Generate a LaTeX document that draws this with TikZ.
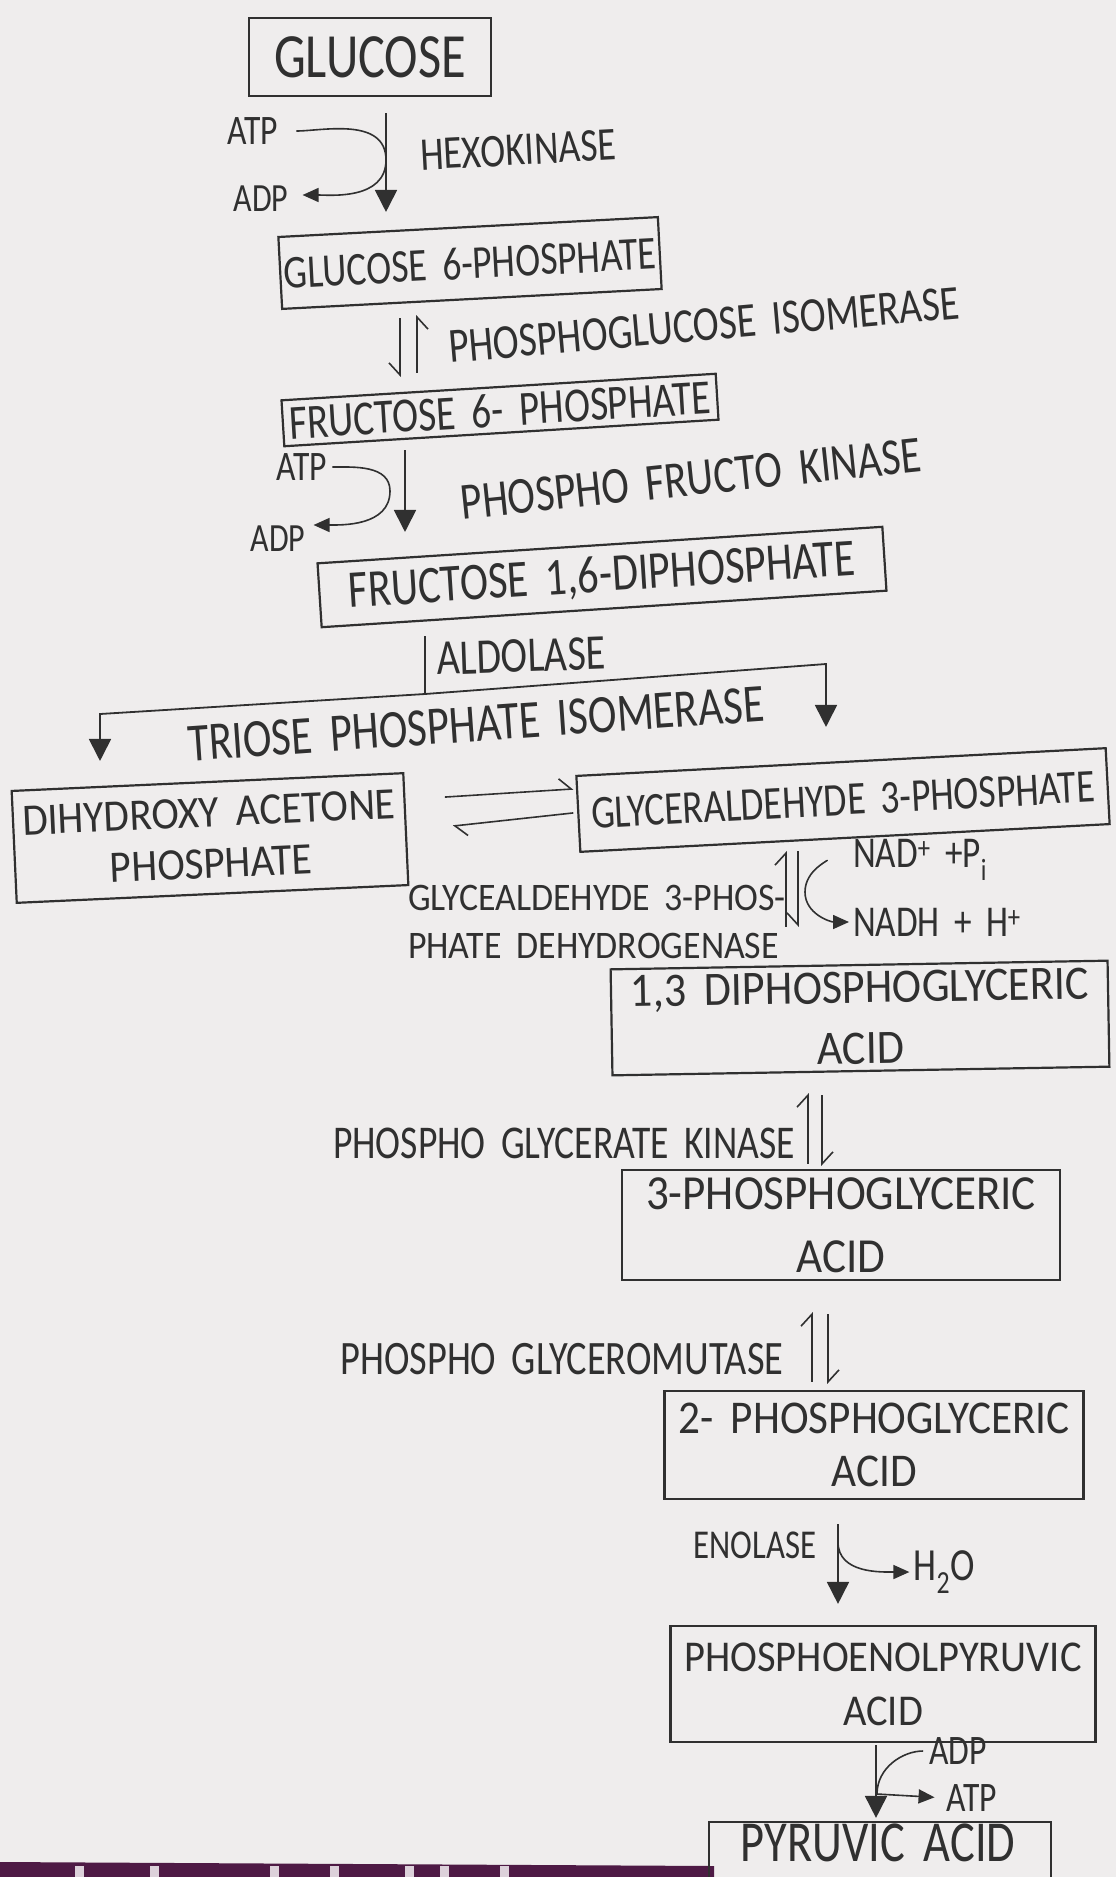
\documentclass[tikz,border=0pt]{standalone}
\usepackage{fontspec}
\setmainfont{Carlito}[FakeStretch=0.8, WordSpace=1.8]
\newfontfamily\hwwide{Carlito}[FakeStretch=0.92, WordSpace=1.8]
\usetikzlibrary{arrows.meta,positioning,calc}
\definecolor{paper}{HTML}{EFEDED}
\definecolor{pencil}{HTML}{303030}
\definecolor{cloth}{HTML}{4E1A45}
\newcommand{\hw}[1]{\fontsize{#1}{#1}\selectfont}
\tikzstyle{met} = [rectangle, draw=pencil, line width=2.2pt, text=pencil, align=center, inner sep=0pt]
\tikzstyle{lbl} = [text=pencil, inner sep=0pt, align=center]
\tikzstyle{arrow} = [draw=pencil, line width=1.8pt, -{Triangle[length=22pt,width=22pt]}]
\tikzstyle{plain} = [draw=pencil, line width=1.8pt]
\tikzstyle{side} = [draw=pencil, line width=1.6pt, -{Triangle[length=16pt,width=14pt]}]
\tikzstyle{harp} = [draw=pencil, line width=1.6pt, -{Straight Barb[left,length=12pt,width=22pt]}]
\tikzstyle{harpr} = [draw=pencil, line width=1.6pt, -{Straight Barb[right,length=12pt,width=22pt]}]

\begin{document}
\begin{tikzpicture}[x=1pt,y=-1pt]
	\fill[paper] (0,0) rectangle (1116,1877);
	\useasboundingbox (0,0) rectangle (1116,1877);
	% cloth under the sheet
	\fill[cloth] (0,1862) -- (714,1866) -- (714,1877) -- (0,1877) -- cycle;
	\foreach \x in {75,150,270,330,405,440,500}
		\fill[white!80!cloth] (\x,1866) rectangle ++(9,11);

	% compounds
	\node[met, font=\hw{63}, minimum width=242pt, minimum height=78pt] (glc) at (370,57) {GLUCOSE};
	\node[met, font=\hw{47}, minimum width=380pt, minimum height=72pt, rotate=3] (g6p) at (470,263) {GLUCOSE 6-PHOSPHATE};
	\node[met, font=\hw{49}, minimum width=435pt, minimum height=46pt, rotate=3.5] (f6p) at (500,410) {FRUCTOSE 6- PHOSPHATE};
	\node[met, font=\hw{53}, minimum width=566pt, minimum height=64pt, rotate=3.7] (f16) at (602,577) {FRUCTOSE 1,6-DIPHOSPHATE};
	\node[met, font={\hwwide\hw{45}}, minimum width=392pt, minimum height=112pt, rotate=2.6] (dhap) at (210,838) {DIHYDROXY ACETONE\\[6pt]PHOSPHATE};
	\node[met, font=\hw{47}, minimum width=530pt, minimum height=76pt, rotate=3] (gap) at (843,800) {GLYCERALDEHYDE 3-PHOSPHATE};
	\node[met, font={\hwwide\hw{48}}, minimum width=497pt, minimum height=106pt, rotate=1] (dpg) at (860,1018) {1,3 DIPHOSPHOGLYCERIC\\[13pt]ACID};
	\node[met, font={\hwwide\hw{49}}, minimum width=438pt, minimum height=110pt] (pga3) at (841,1225) {3-PHOSPHOGLYCERIC\\[14pt]ACID};
	\node[met, font={\hwwide\hw{47}}, minimum width=419pt, minimum height=108pt] (pga2) at (874,1445) {2- PHOSPHOGLYCERIC\\[6pt]ACID};
	\node[met, font={\hwwide\hw{44}}, minimum width=425pt, minimum height=116pt] (pep) at (883,1684) {PHOSPHOENOLPYRUVIC\\[10pt]ACID};
	\node[met, minimum width=342pt, minimum height=76pt] (pyr) at (880,1860) {};
	\node[lbl, font=\hw{58}] (pyrtxt) at (878,1843) {PYRUVIC ACID};

	% enzymes and side products
	\node[lbl, font=\hw{42}] (atp1) at (253,131) {ATP};
	\node[lbl, font=\hw{40}] (adp1) at (261,199) {ADP};
	\node[lbl, font=\hw{47}, rotate=3] (hk) at (518,150) {HEXOKINASE};
	\node[lbl, font=\hw{49}, rotate=5] (pgi) at (704,325) {PHOSPHOGLUCOSE ISOMERASE};
	\node[lbl, font=\hw{42}] (atp2) at (302,467) {ATP};
	\node[lbl, font=\hw{40}] (adp2) at (278,539) {ADP};
	\node[lbl, font=\hw{52}, rotate=6] (pfk) at (691,479) {PHOSPHO FRUCTO KINASE};
	\node[lbl, font=\hw{50}, rotate=2] (ald) at (521,656) {ALDOLASE};
	\node[lbl, font=\hw{54}, rotate=4] (tpi) at (476,724) {TRIOSE PHOSPHATE ISOMERASE};
	\node[lbl, font={\hwwide\hw{39}}, align=left] (gapdh) at (597,922) {GLYCEALDEHYDE 3-PHOS-\\[9pt]PHATE DEHYDROGENASE};
	\node[lbl, font=\hw{44}, anchor=west] (nad) at (853,860) {NAD\textsuperscript{+} +P\textsubscript{i}};
	\node[lbl, font=\hw{44}, anchor=west] (nadh) at (853,922) {NADH + H\textsuperscript{+}};
	\node[lbl, font=\hw{47}] (pgk) at (564,1143) {PHOSPHO GLYCERATE KINASE};
	\node[lbl, font=\hw{48}] (pgm) at (562,1359) {PHOSPHO GLYCEROMUTASE};
	\node[lbl, font=\hw{41}] (eno) at (755,1545) {ENOLASE};
	\node[lbl, font=\hw{46}] (h2o) at (944,1572) {H\textsubscript{2}O};
	\node[lbl, font=\hw{42}] (adp3) at (958,1751) {ADP};
	\node[lbl, font=\hw{42}] (atp3) at (972,1798) {ATP};

	% stems of the arrows
	\coordinate (k1) at (386,160);
	\coordinate (s2l) at (400,0);
	\coordinate (s2r) at (417,0);
	\coordinate (k2) at (390,491);
	\coordinate (s3) at (405,0);
	\coordinate (sp) at (425,694);
	\coordinate (spL) at (100,714);
	\coordinate (spR) at (826,664);
	\coordinate (s5l) at (786,0);
	\coordinate (s5r) at (798,0);
	\coordinate (k5) at (805,892);
	\coordinate (s6l) at (808,0);
	\coordinate (s6r) at (822,0);
	\coordinate (s7l) at (812,0);
	\coordinate (s7r) at (828,0);
	\coordinate (k8) at (838,1542);
	\coordinate (s9) at (876,0);
	\coordinate (k9) at (877,1794);

	% glucose -> G6P
	\draw[arrow, shorten <=16pt, shorten >=14pt] (glc.south -| k1) -- (g6p.north -| k1);
	\draw[side, shorten <=18pt, shorten >=14pt] (atp1.east) to[out=0,in=90] (k1) to[out=-90,in=0] ([yshift=4]adp1.east);
	% G6P <-> F6P
	\draw[harpr, shorten <=18pt, shorten >=9pt] (g6p.south -| s2l) -- (f6p.north -| s2l);
	\draw[harpr, shorten <=13pt, shorten >=15pt] (f6p.north -| s2r) -- (g6p.south -| s2r);
	% F6P -> F16DP
	\draw[arrow, shorten <=16pt, shorten >=12pt] (f6p.south -| s3) -- (f16.north -| s3);
	\draw[side, shorten <=5pt, shorten >=8pt] (atp2.east) to[out=0,in=90] (k2) to[out=-90,in=0] ([yshift=14]adp2.east);
	% aldolase split
	\draw[plain, shorten <=26pt] (f16.south -| sp) -- (sp);
	\draw[arrow, shorten >=20pt] (sp) -- (spL) -- (spL |- dhap.north);
	\draw[arrow, shorten >=34pt] (sp) -- (spR) -- (spR |- gap.north);
	% DHAP <-> GAP
	\draw[harp] ([shift={(38,-32)}]dhap.east) -- ([shift={(-4,-25)}]gap.west);
	\draw[harp] ([shift={(-4,-1)}]gap.west) -- ([shift={(46,-3)}]dhap.east);
	% GAP <-> 1,3 DPG
	\draw[harp, shorten <=37pt, shorten >=12pt] (dpg.north -| s5l) -- (gap.south -| s5l);
	\draw[harpr, shorten <=12pt, shorten >=37pt] (gap.south -| s5r) -- (dpg.north -| s5r);
	\draw[side, shorten <=26pt, shorten >=4pt] (nad.west) to[out=180,in=90] (k5) to[out=-90,in=180] (nadh.west);
	% 1,3 DPG <-> 3PG
	\draw[harp, shorten <=5pt, shorten >=21pt] (pga3.north -| s6l) -- (dpg.south -| s6l);
	\draw[harp, shorten <=23pt, shorten >=3pt] (dpg.south -| s6r) -- (pga3.north -| s6r);
	% 3PG <-> 2PG
	\draw[harp, shorten <=8pt, shorten >=31pt] (pga2.north -| s7l) -- (pga3.south -| s7l);
	\draw[harp, shorten <=33pt, shorten >=6pt] (pga3.south -| s7r) -- (pga2.north -| s7r);
	% 2PG -> PEP
	\draw[arrow, shorten <=24pt, shorten >=21pt] (pga2.south -| k8) -- (pep.north -| k8);
	\draw[side, shorten >=4pt] (k8) to[out=-90,in=180] (h2o.west);
	% PEP -> pyruvic acid
	\draw[arrow, shorten <=2pt, shorten >=3pt] (pep.south -| s9) -- (pyr.north -| s9);
	\draw[side, shorten <=6pt, shorten >=12pt] (adp3.west) to[out=180,in=90] (k9) -- (atp3.west);
\end{tikzpicture}
\end{document}
